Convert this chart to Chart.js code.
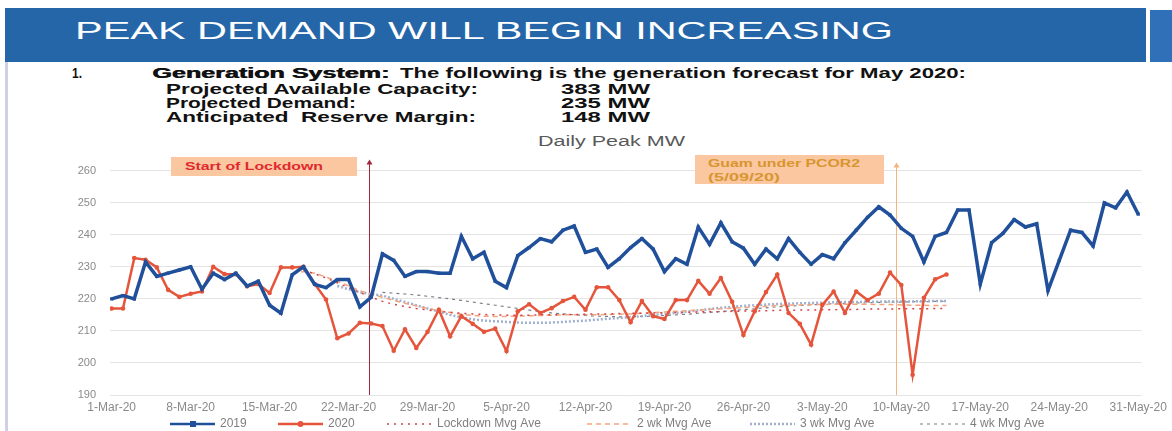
<!DOCTYPE html>
<html>
<head>
<meta charset="utf-8">
<script src="https://cdn.jsdelivr.net/npm/chart.js@4.4.0/dist/chart.umd.min.js"></script>
<style>
  body { margin: 0; width: 1172px; height: 431px; overflow: hidden; background: #fff; position: relative; font-family: "Liberation Sans", Arial, sans-serif; }
  .t { position: absolute; white-space: nowrap; line-height: 1; transform-origin: 0 50%; }
  .h { font-size: 15px; font-weight: bold; color: #111; }
  .box { position: absolute; background: #fbc7a1; }
</style>
</head>
<body>
<div style="position:absolute;left:5px;top:8px;width:1141px;height:54px;background:#2566a8;"></div>
<div style="position:absolute;left:1150px;top:10px;width:22px;height:52px;background:#2f70b8;"></div>
<div style="position:absolute;left:5px;top:62px;width:3px;height:369px;background:#cfd0e6;"></div>
<span class="t" data-w="818" style="left:75px;top:19px;font-size:24px;color:#fff;">PEAK DEMAND WILL BEGIN INCREASING</span>

<span class="t h" data-w="10" style="left:72px;top:65px;">1.</span>
<span class="t h" data-w="237" style="left:152px;top:65px;text-shadow:0.6px 0 0 #111;">Generation System:</span>
<span class="t h" data-w="566" style="left:400px;top:65px;">The following is the generation forecast for May 2020:</span>
<span class="t h" data-w="312" style="left:166px;top:80.5px;">Projected Available Capacity:</span>
<span class="t h" data-w="89" style="left:561px;top:80.5px;">383 MW</span>
<span class="t h" data-w="190" style="left:166px;top:95px;">Projected Demand:</span>
<span class="t h" data-w="89" style="left:561px;top:95px;">235 MW</span>
<span class="t h" data-w="310" style="left:166px;top:109px;">Anticipated&nbsp; Reserve Margin:</span>
<span class="t h" data-w="89" style="left:561px;top:109px;">148 MW</span>

<span class="t" data-w="147" style="left:538px;top:134px;font-size:14px;color:#595959;">Daily Peak MW</span>

<div style="position:absolute;left:0;top:150px;width:1172px;height:281px;">
  <canvas id="peakChart" width="1172" height="281"></canvas>
</div>

<div class="box" style="left:171px;top:157px;width:186px;height:19px;"></div>
<span class="t" data-w="138" style="left:185px;top:161px;font-size:11px;font-weight:bold;color:#de2a2e;">Start of Lockdown</span>
<div class="box" style="left:695px;top:155px;width:189px;height:29px;"></div>
<span class="t" data-w="152" style="left:708px;top:157.6px;font-size:11px;font-weight:bold;color:#d8952e;">Guam under PCOR2</span>
<span class="t" data-w="72" style="left:708px;top:171.6px;font-size:11px;font-weight:bold;color:#d8952e;">(5/09/20)</span>

<script>
// tick labels every 7 days, starting 1 Mar
const dayTickLabels = ["1-Mar-20", "8-Mar-20", "15-Mar-20", "22-Mar-20", "29-Mar-20", "5-Apr-20", "12-Apr-20",
    "19-Apr-20", "26-Apr-20", "3-May-20", "10-May-20", "17-May-20", "24-May-20", "31-May-20"];

// daily peak MW, day 0 = 1 Mar
const peak2019 = [220, 221, 220, 231.5, 227, 228, 229, 230, 223, 228,
    226, 228, 224, 225.5, 218, 215.5, 227.5, 230, 224.5, 223.5,
    226, 226, 217.5, 220.5, 234, 232, 227, 228.5, 228.5, 228,
    228, 239.5, 232.5, 234.5, 225.5, 223.5, 233.5, 236, 238.8, 237.8,
    241.4, 242.7, 234.5, 235.5, 229.8, 232.5, 236, 238.8, 235.5, 228.5,
    232.5, 230.8, 242.4, 237, 243.7, 237.8, 235.8, 230.8, 235.5, 232.5,
    238.8, 234.5, 230.8, 233.8, 232.5, 237.5, 241.4, 245.4, 248.7, 246.1,
    242, 239.5, 231.5, 239.5, 240.7, 247.7, 247.7, 224.6, 237.5, 240.4,
    244.7, 242.4, 243.4, 222.6, 232, 241.4, 240.7, 236.5, 249.9, 248.4,
    253.3, 246.4];

const peak2020 = [217, 217, 232.7, 232.2, 229.8, 222.8, 220.6, 221.6, 222.3, 230,
    227.7, 227.7, 223.9, 224.6, 221.8, 229.8, 229.8, 230, 224.6, 219.8,
    207.7, 209.2, 212.5, 212.3, 211.5, 203.8, 210.5, 204.7, 209.7, 216.6,
    208.3, 214.6, 212.2, 209.7, 210.7, 203.7, 216.1, 218.3, 215.6, 217.1,
    219.3, 220.6, 216.6, 223.6, 223.6, 219.6, 212.7, 219.3, 214.6, 213.7,
    219.6, 219.6, 225.6, 221.6, 226.5, 219.1, 208.7, 216.1, 222.1, 227.6,
    215.6, 212.2, 205.7, 218.1, 222.3, 215.6, 222.3, 219.6, 221.6, 228.2,
    224.3, 196.3, 220.3, 226.1, 227.6];

// moving averages (first day index of each)
const lockdownAvgStart = 17;
const lockdownAvg = [229, 227.8, 226.5, 225, 223.5, 222, 220.5, 219.2, 218.3, 217.6,
    217, 216.5, 216.1, 215.8, 215.5, 215.3, 215.1, 215, 214.9, 214.9,
    214.9, 215, 215, 215.1, 215.1, 215.2, 215.3, 215.3, 215.4, 215.5,
    215.5, 215.6, 215.7, 215.7, 215.8, 215.9, 216, 216, 216.1, 216.2,
    216.2, 216.3, 216.4, 216.4, 216.5, 216.5, 216.6, 216.6, 216.7, 216.7,
    216.8, 216.8, 216.8, 216.9, 216.9, 216.9, 217, 217];

const twoWkStart = 16;
const twoWkAvg = [228, 228.5, 228, 226.8, 225.5, 224, 222.5, 221.5, 220.5, 219.5,
    218.6, 217.8, 217, 216.3, 215.7, 215.2, 214.8, 214.6, 214.5, 214.5,
    214.6, 214.7, 214.8, 214.9, 215, 215, 215, 215, 215.1, 215.2,
    215.3, 215.5, 215.7, 215.9, 216.1, 216.3, 216.5, 216.7, 216.9, 217.1,
    217.3, 217.5, 217.7, 217.9, 218, 218.1, 218.2, 218.2, 218.3, 218.3,
    218.3, 218.3, 218.2, 218.2, 218.1, 218, 218, 217.9, 217.9];

const threeWkStart = 20;
const threeWkAvg = [224, 223, 222, 221.5, 221, 220, 219, 218, 217, 216,
    215, 214.2, 213.6, 213.2, 213, 212.8, 212.6, 212.5, 212.5, 212.6,
    212.8, 213, 213.2, 213.5, 213.8, 214, 214.3, 214.6, 215, 215.3,
    215.6, 216, 216.4, 216.8, 217.2, 217.5, 217.8, 218, 218.2, 218.4,
    218.5, 218.6, 218.7, 218.8, 218.9, 219, 219, 219.1, 219.1, 219.2,
    219.2, 219.2, 219.3, 219.3, 219.3];

const fourWkStart = 24;
const fourWkAvg = [222, 221.8, 221.5, 221.2, 220.8, 220.4, 220, 219.5, 219, 218.5,
    218, 217.5, 217, 216.5, 216, 215.6, 215.3, 215, 214.8, 214.6,
    214.5, 214.4, 214.4, 214.5, 214.6, 214.8, 215, 215.2, 215.5, 215.8,
    216, 216.3, 216.6, 216.9, 217.2, 217.5, 217.7, 217.9, 218.1, 218.3,
    218.5, 218.6, 218.7, 218.8, 218.9, 219, 219, 219.1, 219.1, 219.2, 219.2];

// event markers (day index)
const lockdownDay = 22.8;
const pcorDay = 69.5;

// stretch each text span to the width it has in the picture
document.querySelectorAll("[data-w]").forEach(function (el) {
    const w = el.getBoundingClientRect().width;
    el.style.transform = "scaleX(" + (parseFloat(el.dataset.w) / w) + ")";
});

function toPoints(start, values) {
    return values.map((v, i) => ({ x: start + i, y: v }));
}

// vertical event lines drawn through the x scale
const eventLines = {
    id: "eventLines",
    beforeDatasetsDraw(chart) {
        const ctx = chart.ctx;
        const xs = chart.scales.x;
        const area = chart.chartArea;
        const marks = [
            { day: lockdownDay, color: "#a3263f", top: area.top - 9 },
            { day: pcorDay, color: "#f4b57c", top: area.top - 6 }
        ];
        ctx.save();
        marks.forEach(function (m) {
            const x = Math.round(xs.getPixelForValue(m.day)) + 0.5;
            ctx.strokeStyle = m.color;
            ctx.lineWidth = 1;
            ctx.beginPath();
            ctx.moveTo(x, m.top);
            ctx.lineTo(x, area.bottom);
            ctx.stroke();
            ctx.fillStyle = m.color;
            ctx.beginPath();
            ctx.moveTo(x, m.top - 2);
            ctx.lineTo(x + 3, m.top + 3);
            ctx.lineTo(x - 3, m.top + 3);
            ctx.closePath();
            ctx.fill();
        });
        ctx.restore();
    }
};

// legend along the bottom, like the spreadsheet one
const legendStarts = [170, 278, 387, 587, 750, 920];
const sampleLine = {
    id: "sampleLine",
    afterDraw(chart) {
        const ctx = chart.ctx;
        const y = 274;
        ctx.save();
        chart.data.datasets.forEach(function (ds, i) {
            const x0 = legendStarts[i];
            ctx.strokeStyle = ds.borderColor;
            ctx.lineWidth = Math.min(ds.borderWidth, 2.5);
            ctx.setLineDash(ds.borderDash || []);
            ctx.beginPath();
            ctx.moveTo(x0, y);
            ctx.lineTo(x0 + 45, y);
            ctx.stroke();
            ctx.setLineDash([]);
            ctx.fillStyle = ds.borderColor;
            if (ds.pointStyle === "rect") {
                ctx.fillRect(x0 + 20, y - 3, 6, 6);
            } else if (ds.pointStyle === "circle") {
                ctx.beginPath();
                ctx.arc(x0 + 22.5, y, 3, 0, Math.PI * 2);
                ctx.fill();
            }
            ctx.fillStyle = "#7f7f7f";
            ctx.font = "12px 'Liberation Sans', Arial, sans-serif";
            ctx.textBaseline = "middle";
            ctx.fillText(ds.label, x0 + 50, y);
        });
        ctx.restore();
    }
};

const ctx = document.getElementById("peakChart").getContext("2d");
new Chart(ctx, {
    type: "line",
    data: {
        datasets: [
            {
                label: "2019",
                data: toPoints(0, peak2019),
                borderColor: "#21509b",
                backgroundColor: "#21509b",
                borderWidth: 3.5,
                pointStyle: "rect",
                pointRadius: 2.3,
                pointBorderWidth: 0
            },
            {
                label: "2020",
                data: toPoints(0, peak2020),
                borderColor: "#e5553c",
                backgroundColor: "#e5553c",
                borderWidth: 2.5,
                pointStyle: "circle",
                pointRadius: 2.3,
                pointBorderWidth: 0
            },
            {
                label: "Lockdown Mvg Ave",
                data: toPoints(lockdownAvgStart, lockdownAvg),
                borderColor: "#d2424a",
                borderWidth: 1.5,
                borderDash: [2, 5],
                pointRadius: 0
            },
            {
                label: "2 wk Mvg Ave",
                data: toPoints(twoWkStart, twoWkAvg),
                borderColor: "#f3a47c",
                borderWidth: 1.5,
                borderDash: [5, 4],
                pointRadius: 0
            },
            {
                label: "3 wk Mvg Ave",
                data: toPoints(threeWkStart, threeWkAvg),
                borderColor: "#9fb0cf",
                borderWidth: 2.5,
                borderDash: [2, 2],
                pointRadius: 0
            },
            {
                label: "4 wk Mvg Ave",
                data: toPoints(fourWkStart, fourWkAvg),
                borderColor: "#7b7f88",
                borderWidth: 1.2,
                borderDash: [3, 4],
                pointRadius: 0
            }
        ]
    },
    options: {
        responsive: false,
        animation: false,
        layout: { padding: { top: 9, right: 28, left: 0, bottom: 0 } },
        scales: {
            x: {
                type: "linear",
                min: -0.15,
                max: 91.3,
                grid: { display: false, drawTicks: false },
                border: { display: false },
                afterBuildTicks: function (scale) {
                    scale.ticks = dayTickLabels.map((_, i) => ({ value: i * 7 }));
                },
                afterFit: function (scale) {
                    scale.height = 36;
                },
                ticks: {
                    autoSkip: false,
                    maxRotation: 0,
                    padding: 5,
                    color: "#8a8a8a",
                    font: { size: 12, family: "'Liberation Sans', Arial, sans-serif" },
                    callback: function (value) {
                        return dayTickLabels[Math.round(value / 7)];
                    }
                }
            },
            y: {
                min: 190,
                max: 260,
                grid: { color: "#e4e4e4", drawTicks: false },
                border: { display: false },
                afterFit: function (scale) {
                    scale.width = 110;
                },
                ticks: {
                    stepSize: 10,
                    padding: 14,
                    color: "#8a8a8a",
                    font: { size: 11, family: "'Liberation Sans', Arial, sans-serif" }
                }
            }
        },
        plugins: {
            legend: { display: false },
            tooltip: { enabled: false }
        }
    },
    plugins: [eventLines, sampleLine]
});
</script>
</body>
</html>
